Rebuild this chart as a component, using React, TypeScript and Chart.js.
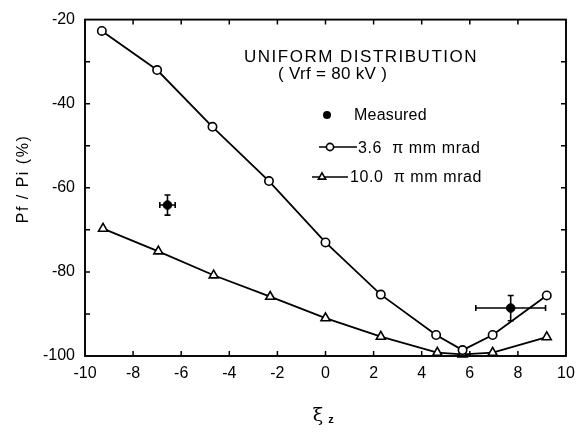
import React, { useEffect, useRef } from 'react';
import { Chart, registerables } from 'chart.js';

Chart.register(...registerables);

// ---- data ----
const xiCircle = [-9.3, -7.0, -4.7, -2.35, 0, 2.3, 4.6, 5.7, 6.95, 9.2];
const ppCircle = [-22.7, -32.0, -45.5, -58.4, -73.0, -85.4, -95.0, -98.6, -95.0, -85.6];
const xiTriangle = [-9.25, -6.95, -4.65, -2.3, 0, 2.3, 4.65, 5.7, 6.95, 9.2];
const ppTriangle = [-69.7, -75.1, -80.8, -85.9, -91.0, -95.4, -99.2, -99.6, -99.2, -95.5];
const measuredX = [-6.57, 7.7];
const measuredY = [-64.1, -88.6];
const measuredXErr = [0.32, 1.45];
const measuredYErr = [2.4, 3.0];
const xTicks = [-10, -8, -6, -4, -2, 0, 2, 4, 6, 8, 10];
const yTicks = [-100, -80, -60, -40, -20];
const yInnerTicks = [-90, -80, -70, -60, -50, -40, -30];

const titleLine1 = 'UNIFORM DISTRIBUTION';
const titleLine2 = '( Vrf = 80 kV )';
const legendMeasured = 'Measured';
const legendCircle = '3.6  \u03c0 mm mrad';
const legendTriangle = '10.0  \u03c0 mm mrad';
const yTitle = 'Pf / Pi (%)';

const SANS = '"Liberation Sans", Arial, sans-serif';

const decorPlugin = {
  id: 'decor',
  beforeDatasetsDraw(chart: any) {
    const ctx = chart.ctx as CanvasRenderingContext2D;
    const xs = chart.scales.x;
    const ys = chart.scales.y;
    ctx.save();
    ctx.strokeStyle = '#000';
    ctx.lineWidth = 1.6;
    const cap = 3;
    for (let i = 0; i < measuredX.length; i++) {
      const cx = xs.getPixelForValue(measuredX[i]);
      const cy = ys.getPixelForValue(measuredY[i]);
      const x0 = xs.getPixelForValue(measuredX[i] - measuredXErr[i]);
      const x1 = xs.getPixelForValue(measuredX[i] + measuredXErr[i]);
      const y0 = ys.getPixelForValue(measuredY[i] + measuredYErr[i]);
      const y1 = ys.getPixelForValue(measuredY[i] - measuredYErr[i]);
      ctx.beginPath();
      ctx.moveTo(x0, cy); ctx.lineTo(x1, cy);
      ctx.moveTo(x0, cy - cap); ctx.lineTo(x0, cy + cap);
      ctx.moveTo(x1, cy - cap); ctx.lineTo(x1, cy + cap);
      ctx.moveTo(cx, y0); ctx.lineTo(cx, y1);
      ctx.moveTo(cx - cap, y0); ctx.lineTo(cx + cap, y0);
      ctx.moveTo(cx - cap, y1); ctx.lineTo(cx + cap, y1);
      ctx.stroke();
    }
    ctx.restore();
  },
  afterDraw(chart: any) {
    const ctx = chart.ctx as CanvasRenderingContext2D;
    const { left, right, top, bottom } = chart.chartArea;
    const xs = chart.scales.x;
    const ys = chart.scales.y;
    ctx.save();
    ctx.strokeStyle = '#000';
    ctx.fillStyle = '#000';
    ctx.lineWidth = 1.9;
    ctx.strokeRect(left, top, right - left, bottom - top);
    // inward ticks
    ctx.lineWidth = 1.5;
    ctx.beginPath();
    xTicks.slice(1, -1).forEach((v) => {
      const p = xs.getPixelForValue(v);
      ctx.moveTo(p, bottom); ctx.lineTo(p, bottom - 5);
      ctx.moveTo(p, top); ctx.lineTo(p, top + 5);
    });
    yInnerTicks.forEach((v) => {
      const p = ys.getPixelForValue(v);
      ctx.moveTo(left, p); ctx.lineTo(left + 5, p);
      ctx.moveTo(right, p); ctx.lineTo(right - 5, p);
    });
    ctx.stroke();

    // annotation text
    (ctx as any).letterSpacing = '1.5px';
    ctx.font = `17px ${SANS}`;
    ctx.textAlign = 'left';
    ctx.textBaseline = 'alphabetic';
    ctx.fillText(titleLine1, 244, 62);
    (ctx as any).letterSpacing = '0.3px';
    ctx.fillText(titleLine2, 278, 79);

    ctx.font = `16px ${SANS}`;
    (ctx as any).letterSpacing = '0.2px';
    ctx.fillText(legendMeasured, 354, 120);
    (ctx as any).letterSpacing = '0.6px';
    ctx.fillText(legendCircle, 358, 153);
    ctx.fillText(legendTriangle, 350, 182);
    (ctx as any).letterSpacing = '0px';

    // legend symbols
    ctx.beginPath();
    ctx.arc(327, 115, 4, 0, Math.PI * 2);
    ctx.fill();

    ctx.lineWidth = 1.6;
    ctx.beginPath();
    ctx.moveTo(319, 147); ctx.lineTo(357, 147);
    ctx.moveTo(312, 177); ctx.lineTo(348, 177);
    ctx.stroke();
    ctx.fillStyle = '#fff';
    ctx.beginPath();
    ctx.arc(330, 147, 3.6, 0, Math.PI * 2);
    ctx.fill();
    ctx.stroke();
    const tr = 4.2;
    const tx = 322, ty = 177;
    ctx.beginPath();
    ctx.moveTo(tx, ty - tr);
    ctx.lineTo(tx + tr * 0.866, ty + tr * 0.5);
    ctx.lineTo(tx - tr * 0.866, ty + tr * 0.5);
    ctx.closePath();
    ctx.fill();
    ctx.stroke();
    ctx.fillStyle = '#000';

    // x title
    ctx.textAlign = 'center';
    ctx.textBaseline = 'middle';
    ctx.font = `19px "DejaVu Serif", serif`;
    ctx.fillText('\u03be', 318, 416);
    ctx.font = `bold 11px ${SANS}`;
    ctx.fillText('z', 331, 420);

    // y title
    ctx.save();
    ctx.translate(24, 179);
    ctx.rotate(-Math.PI / 2);
    ctx.font = `16px ${SANS}`;
    (ctx as any).letterSpacing = '1.5px';
    ctx.fillText(yTitle, 0, 0);
    ctx.restore();

    ctx.restore();
  },
};

export default function App() {
  const ref = useRef<HTMLCanvasElement | null>(null);
  useEffect(() => {
    if (!ref.current) return;
    const chart = new Chart(ref.current, {
      type: 'scatter',
      data: {
        datasets: [
          {
            label: '3.6',
            data: xiCircle.map((x, i) => ({ x, y: ppCircle[i] })),
            showLine: true,
            borderColor: '#000',
            borderWidth: 1.8,
            pointStyle: 'circle',
            pointRadius: 4.2,
            pointBackgroundColor: '#fff',
            pointBorderColor: '#000',
            pointBorderWidth: 1.6,
            clip: false,
          } as any,
          {
            label: '10.0',
            data: xiTriangle.map((x, i) => ({ x, y: ppTriangle[i] })),
            showLine: true,
            borderColor: '#000',
            borderWidth: 1.8,
            pointStyle: 'triangle',
            pointRadius: 5.2,
            pointBackgroundColor: '#fff',
            pointBorderColor: '#000',
            pointBorderWidth: 1.6,
            clip: false,
          } as any,
          {
            label: 'Measured',
            data: measuredX.map((x, i) => ({ x, y: measuredY[i] })),
            showLine: false,
            pointStyle: 'circle',
            pointRadius: 4.3,
            pointBackgroundColor: '#000',
            pointBorderColor: '#000',
            pointBorderWidth: 1,
            clip: false,
          } as any,
        ],
      },
      options: {
        animation: false,
        responsive: false,
        maintainAspectRatio: false,
        layout: { padding: { top: 15, right: 17, left: 0, bottom: 0 } },
        plugins: { legend: { display: false }, tooltip: { enabled: false } },
        scales: {
          x: {
            type: 'linear',
            min: -10,
            max: 10,
            afterBuildTicks: (s: any) => {
              s.ticks = xTicks.map((v) => ({ value: v }));
            },
            afterFit: (s: any) => {
              s.height = 79;
            },
            grid: { display: false, drawTicks: false },
            border: { display: false },
            ticks: {
              color: '#000',
              padding: 8,
              maxRotation: 0,
              autoSkip: false,
              font: { family: SANS, size: 16 },
              callback: (v: any) => String(v),
            },
          },
          y: {
            type: 'linear',
            min: -100,
            max: -20,
            afterBuildTicks: (s: any) => {
              s.ticks = yTicks.map((v) => ({ value: v }));
            },
            afterFit: (s: any) => {
              s.width = 85;
            },
            grid: { display: false, drawTicks: false },
            border: { display: false },
            ticks: {
              color: '#000',
              padding: 10,
              autoSkip: false,
              font: { family: SANS, size: 16 },
              callback: (v: any) => String(v),
            },
          },
        },
      } as any,
      plugins: [decorPlugin],
    });
    return () => chart.destroy();
  }, []);
  return (
    <div style={{ position: 'absolute', left: 0, top: 0, width: 583, height: 435, background: '#fff' }}>
      <canvas ref={ref} width={583} height={435} style={{ width: 583, height: 435, display: 'block' }} />
    </div>
  );
}
